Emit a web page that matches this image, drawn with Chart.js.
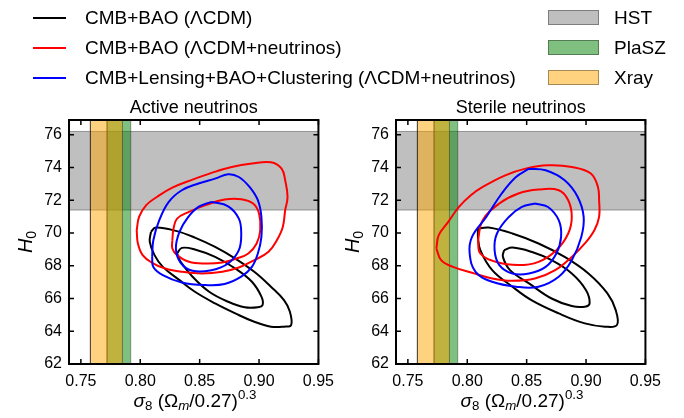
<!DOCTYPE html>
<html><head><meta charset="utf-8">
<script src="https://cdn.jsdelivr.net/npm/chart.js@4.4.1/dist/chart.umd.min.js"></script>
<style>
html,body{margin:0;padding:0;background:#fff;}
#wrap{position:relative;width:684px;height:418px;overflow:hidden;font-family:"Liberation Sans",Arial,sans-serif;color:#000;}
canvas{position:absolute;top:0;}
.txt{position:absolute;font-size:19px;line-height:20px;white-space:nowrap;}
.ln{position:absolute;width:33px;height:0;border-top:2px solid #000;}
.patch{position:absolute;width:51px;height:15px;box-sizing:border-box;border:1px solid rgba(0,0,0,0.35);}
.xt{position:absolute;top:391px;width:252px;text-align:center;font-size:19px;line-height:20px;white-space:nowrap;}
.yt{position:absolute;top:232px;width:40px;text-align:center;font-size:20px;line-height:20px;transform:rotate(-90deg);white-space:nowrap;}
sub,sup{font-size:70%;line-height:0;}
sub{vertical-align:-0.25em;}
sup{vertical-align:0.6em;}
</style></head>
<body>
<div id="wrap">
  <canvas id="c1" width="342" height="418" style="left:0px"></canvas>
  <canvas id="c2" width="342" height="418" style="left:327px"></canvas>

  <div class="ln" style="left:33px;top:17px;border-color:#000"></div>
  <div class="txt" style="left:85px;top:8px">CMB+BAO (ΛCDM)</div>
  <div class="ln" style="left:33px;top:47px;border-color:#ff0000"></div>
  <div class="txt" style="left:85px;top:38px">CMB+BAO (ΛCDM+neutrinos)</div>
  <div class="ln" style="left:33px;top:77px;border-color:#0000ff"></div>
  <div class="txt" style="left:85px;top:68px">CMB+Lensing+BAO+Clustering (ΛCDM+neutrinos)</div>

  <div class="patch" style="left:548px;top:10px;background:rgba(0,0,0,0.25)"></div>
  <div class="txt" style="left:614px;top:8px">HST</div>
  <div class="patch" style="left:548px;top:40px;background:rgba(0,128,0,0.5)"></div>
  <div class="txt" style="left:614px;top:38px">PlaSZ</div>
  <div class="patch" style="left:548px;top:70px;background:rgba(255,165,0,0.5)"></div>
  <div class="txt" style="left:614px;top:68px">Xray</div>

  <div class="xt" style="left:69px"><i>σ</i><sub>8</sub> (Ω<sub><i>m</i></sub>/0.27)<sup>0.3</sup></div>
  <div class="xt" style="left:396px"><i>σ</i><sub>8</sub> (Ω<sub><i>m</i></sub>/0.27)<sup>0.3</sup></div>
  <div class="yt" style="left:5px"><i>H</i><sub>0</sub></div>
  <div class="yt" style="left:332px"><i>H</i><sub>0</sub></div>
</div>
<script>
// ---- axis limits and ticks ----
const xLimits = [0.74, 0.95];
const yLimits = [62, 76.9];
const xTicks = [0.75, 0.80, 0.85, 0.90, 0.95];
const xTickLabels = ['0.75', '0.80', '0.85', '0.90', '0.95'];
const yTicks = [62, 64, 66, 68, 70, 72, 74, 76];
const yTickLabels = ['62', '64', '66', '68', '70', '72', '74', '76'];
const panelTitles = ['Active neutrinos', 'Sterile neutrinos'];

// ---- observational bands ----
const hstH0 = [71.4, 76.2];
const plaszS8 = [0.772, 0.792];
const xrayS8 = [0.758, 0.785];

// ---- Active neutrinos contours [sigma8(Om/0.27)^0.3, H0] ----
const activeBlackOuter = [[0.809,70.07],[0.813,70.33],[0.830,70.13],[0.846,69.72],[0.863,69.15],[0.880,68.44],[0.896,67.63],[0.910,66.72],[0.921,65.90],[0.926,65.19],[0.927,64.38],[0.921,64.28],[0.910,64.28],[0.896,64.58],[0.880,65.09],[0.863,65.70],[0.846,66.41],[0.833,67.12],[0.819,67.93],[0.812,68.65],[0.808,69.46],[0.809,70.07]];
const activeBlackInner = [[0.831,68.75],[0.835,69.09],[0.846,68.99],[0.863,68.54],[0.880,67.83],[0.894,67.02],[0.902,66.11],[0.903,65.60],[0.899,65.46],[0.888,65.46],[0.874,65.80],[0.858,66.41],[0.844,67.33],[0.834,68.24],[0.831,68.75]];
const activeRedOuter = [[0.797,70.17],[0.799,70.98],[0.805,71.70],[0.814,72.20],[0.827,72.77],[0.844,73.26],[0.860,73.67],[0.877,74.03],[0.894,74.24],[0.910,74.32],[0.919,73.93],[0.922,73.22],[0.924,72.20],[0.922,71.39],[0.920,70.37],[0.915,69.56],[0.908,68.85],[0.896,68.34],[0.883,67.89],[0.869,67.63],[0.852,67.53],[0.835,67.63],[0.821,67.83],[0.810,68.18],[0.802,68.65],[0.798,69.36],[0.797,70.17]];
const activeRedInner = [[0.827,69.56],[0.828,70.27],[0.831,70.88],[0.841,71.29],[0.855,71.70],[0.871,72.04],[0.885,72.06],[0.895,71.80],[0.900,71.19],[0.901,70.17],[0.898,69.36],[0.891,68.75],[0.881,68.44],[0.869,68.20],[0.855,68.14],[0.841,68.24],[0.831,68.65],[0.827,69.05],[0.827,69.56]];
const activeBlueOuter = [[0.810,68.54],[0.811,69.56],[0.816,70.78],[0.824,71.90],[0.835,72.61],[0.849,73.02],[0.863,73.32],[0.874,73.59],[0.883,73.42],[0.892,72.81],[0.899,72.00],[0.902,70.98],[0.902,69.76],[0.899,68.75],[0.894,67.93],[0.885,67.33],[0.871,66.88],[0.855,66.82],[0.835,66.98],[0.819,67.43],[0.811,67.93],[0.810,68.54]];
const activeBlueInner = [[0.860,71.90],[0.874,71.63],[0.883,70.88],[0.885,69.97],[0.883,68.95],[0.874,68.14],[0.860,67.73],[0.844,67.69],[0.834,68.18],[0.830,69.05],[0.833,70.07],[0.840,70.94],[0.849,71.59],[0.860,71.90]];

// ---- Sterile neutrinos contours ----
const sterileBlackOuter = [[0.809,70.27],[0.818,70.33],[0.838,69.97],[0.860,69.36],[0.882,68.54],[0.902,67.53],[0.918,66.31],[0.925,65.29],[0.926,64.38],[0.916,64.28],[0.899,64.48],[0.877,65.09],[0.854,65.90],[0.838,66.72],[0.821,67.73],[0.811,68.95],[0.809,69.76],[0.809,70.27]];
const sterileBlackInner = [[0.831,68.95],[0.838,69.11],[0.854,68.85],[0.871,68.34],[0.888,67.53],[0.900,66.51],[0.903,65.70],[0.899,65.50],[0.888,65.54],[0.871,66.00],[0.852,66.92],[0.836,67.73],[0.830,68.54],[0.831,68.95]];
const sterileRedOuter = [[0.774,69.05],[0.776,69.87],[0.784,70.68],[0.793,71.59],[0.803,72.30],[0.813,72.81],[0.832,73.52],[0.849,73.93],[0.868,74.13],[0.888,74.03],[0.904,73.63],[0.910,72.81],[0.911,72.00],[0.911,70.98],[0.907,70.17],[0.899,69.36],[0.888,68.54],[0.874,67.73],[0.857,67.22],[0.838,67.08],[0.821,67.22],[0.804,67.57],[0.788,67.93],[0.778,68.34],[0.774,69.05]];
const sterileRedInner = [[0.809,69.56],[0.813,70.78],[0.827,71.80],[0.843,72.41],[0.860,72.65],[0.877,72.61],[0.885,72.00],[0.888,70.98],[0.885,69.97],[0.875,68.95],[0.860,68.24],[0.843,68.04],[0.824,68.24],[0.811,68.75],[0.809,69.56]];
const sterileBlueOuter = [[0.852,73.93],[0.866,73.83],[0.882,73.22],[0.893,72.20],[0.898,70.98],[0.896,69.76],[0.888,68.34],[0.877,67.33],[0.860,66.72],[0.841,66.72],[0.821,67.02],[0.807,67.63],[0.802,68.75],[0.804,69.76],[0.816,70.98],[0.829,72.41],[0.841,73.42],[0.852,73.93]];
const sterileBlueInner = [[0.857,71.80],[0.868,71.59],[0.877,70.78],[0.879,69.76],[0.875,68.75],[0.866,67.93],[0.852,67.53],[0.838,67.53],[0.827,68.04],[0.823,68.95],[0.825,69.97],[0.835,70.98],[0.846,71.59],[0.857,71.80]];

const toPts = arr => arr.map(p => ({x: p[0], y: p[1]}));

function band(xr, yr, color, order) {
  return {
    data: toPts([[xr[0], yr[0]], [xr[1], yr[0]], [xr[1], yr[1]], [xr[0], yr[1]], [xr[0], yr[0]]]),
    showLine: true, fill: 'shape', backgroundColor: color,
    borderColor: 'rgba(0,0,0,0.35)', borderWidth: 1, tension: 0,
    pointRadius: 0, pointHoverRadius: 0, order: order
  };
}
function curve(arr, color, order) {
  return {
    data: toPts(arr), showLine: true, fill: false,
    borderColor: color, borderWidth: 2, tension: 0.4,
    pointRadius: 0, pointHoverRadius: 0, order: order
  };
}

const framePlugin = {
  id: 'frame',
  afterDatasetsDraw(chart) {
    const {ctx, chartArea: a, scales: {x, y}} = chart;
    ctx.save();
    ctx.strokeStyle = '#000';
    ctx.lineWidth = 1.5;
    ctx.beginPath();
    xTicks.forEach(v => {
      const px = x.getPixelForValue(v);
      ctx.moveTo(px, a.bottom); ctx.lineTo(px, a.bottom - 5);
      ctx.moveTo(px, a.top); ctx.lineTo(px, a.top + 5);
    });
    yTicks.forEach(v => {
      const py = y.getPixelForValue(v);
      ctx.moveTo(a.left, py); ctx.lineTo(a.left + 5, py);
      ctx.moveTo(a.right, py); ctx.lineTo(a.right - 5, py);
    });
    ctx.stroke();
    ctx.lineWidth = 2;
    ctx.strokeRect(a.left, a.top, a.right - a.left, a.bottom - a.top);
    ctx.restore();
  }
};

function makeChart(id, title, bo, bi, ro, ri, uo, ui) {
  const datasets = [
    band(xLimits, hstH0, 'rgba(0,0,0,0.25)', 30),
    band(plaszS8, yLimits, 'rgba(0,128,0,0.5)', 20),
    band(xrayS8, yLimits, 'rgba(255,165,0,0.5)', 10),
    curve(bo, '#000000', 3), curve(bi, '#000000', 3),
    curve(ro, '#ff0000', 2), curve(ri, '#ff0000', 2),
    curve(uo, '#0000ff', 1), curve(ui, '#0000ff', 1)
  ];
  const tickFont = {family: 'Liberation Sans', size: 16};
  return new Chart(document.getElementById(id), {
    type: 'scatter',
    data: {datasets},
    options: {
      responsive: false, animation: false, events: [],
      layout: {padding: {top: 0, right: 21, bottom: 0, left: 0}},
      plugins: {
        legend: {display: false}, tooltip: {enabled: false},
        title: {display: true, fullSize: false, text: title, color: '#000',
          font: {family: 'Liberation Sans', size: 18, weight: 'normal', lineHeight: 1.2},
          padding: {top: 97, bottom: 1.4}}
      },
      scales: {
        x: {
          type: 'linear', min: xLimits[0], max: xLimits[1],
          grid: {display: false, drawTicks: false, tickLength: 0}, border: {display: false},
          afterBuildTicks: s => { s.ticks = xTicks.map(v => ({value: v})); },
          afterFit: s => { s.height = 54; },
          ticks: {color: '#000', font: tickFont, padding: 8, autoSkip: false, maxRotation: 0,
            callback: (v, i) => xTickLabels[i]}
        },
        y: {
          type: 'linear', min: yLimits[0], max: yLimits[1],
          grid: {display: false, drawTicks: false, tickLength: 0}, border: {display: false},
          afterBuildTicks: s => { s.ticks = yTicks.map(v => ({value: v})); },
          afterFit: s => { s.width = 69; },
          ticks: {color: '#000', font: tickFont, padding: 7, autoSkip: false,
            callback: (v, i) => yTickLabels[i]}
        }
      }
    },
    plugins: [framePlugin]
  });
}

makeChart('c1', panelTitles[0], activeBlackOuter, activeBlackInner, activeRedOuter, activeRedInner, activeBlueOuter, activeBlueInner);
makeChart('c2', panelTitles[1], sterileBlackOuter, sterileBlackInner, sterileRedOuter, sterileRedInner, sterileBlueOuter, sterileBlueInner);
</script>
</body></html>
